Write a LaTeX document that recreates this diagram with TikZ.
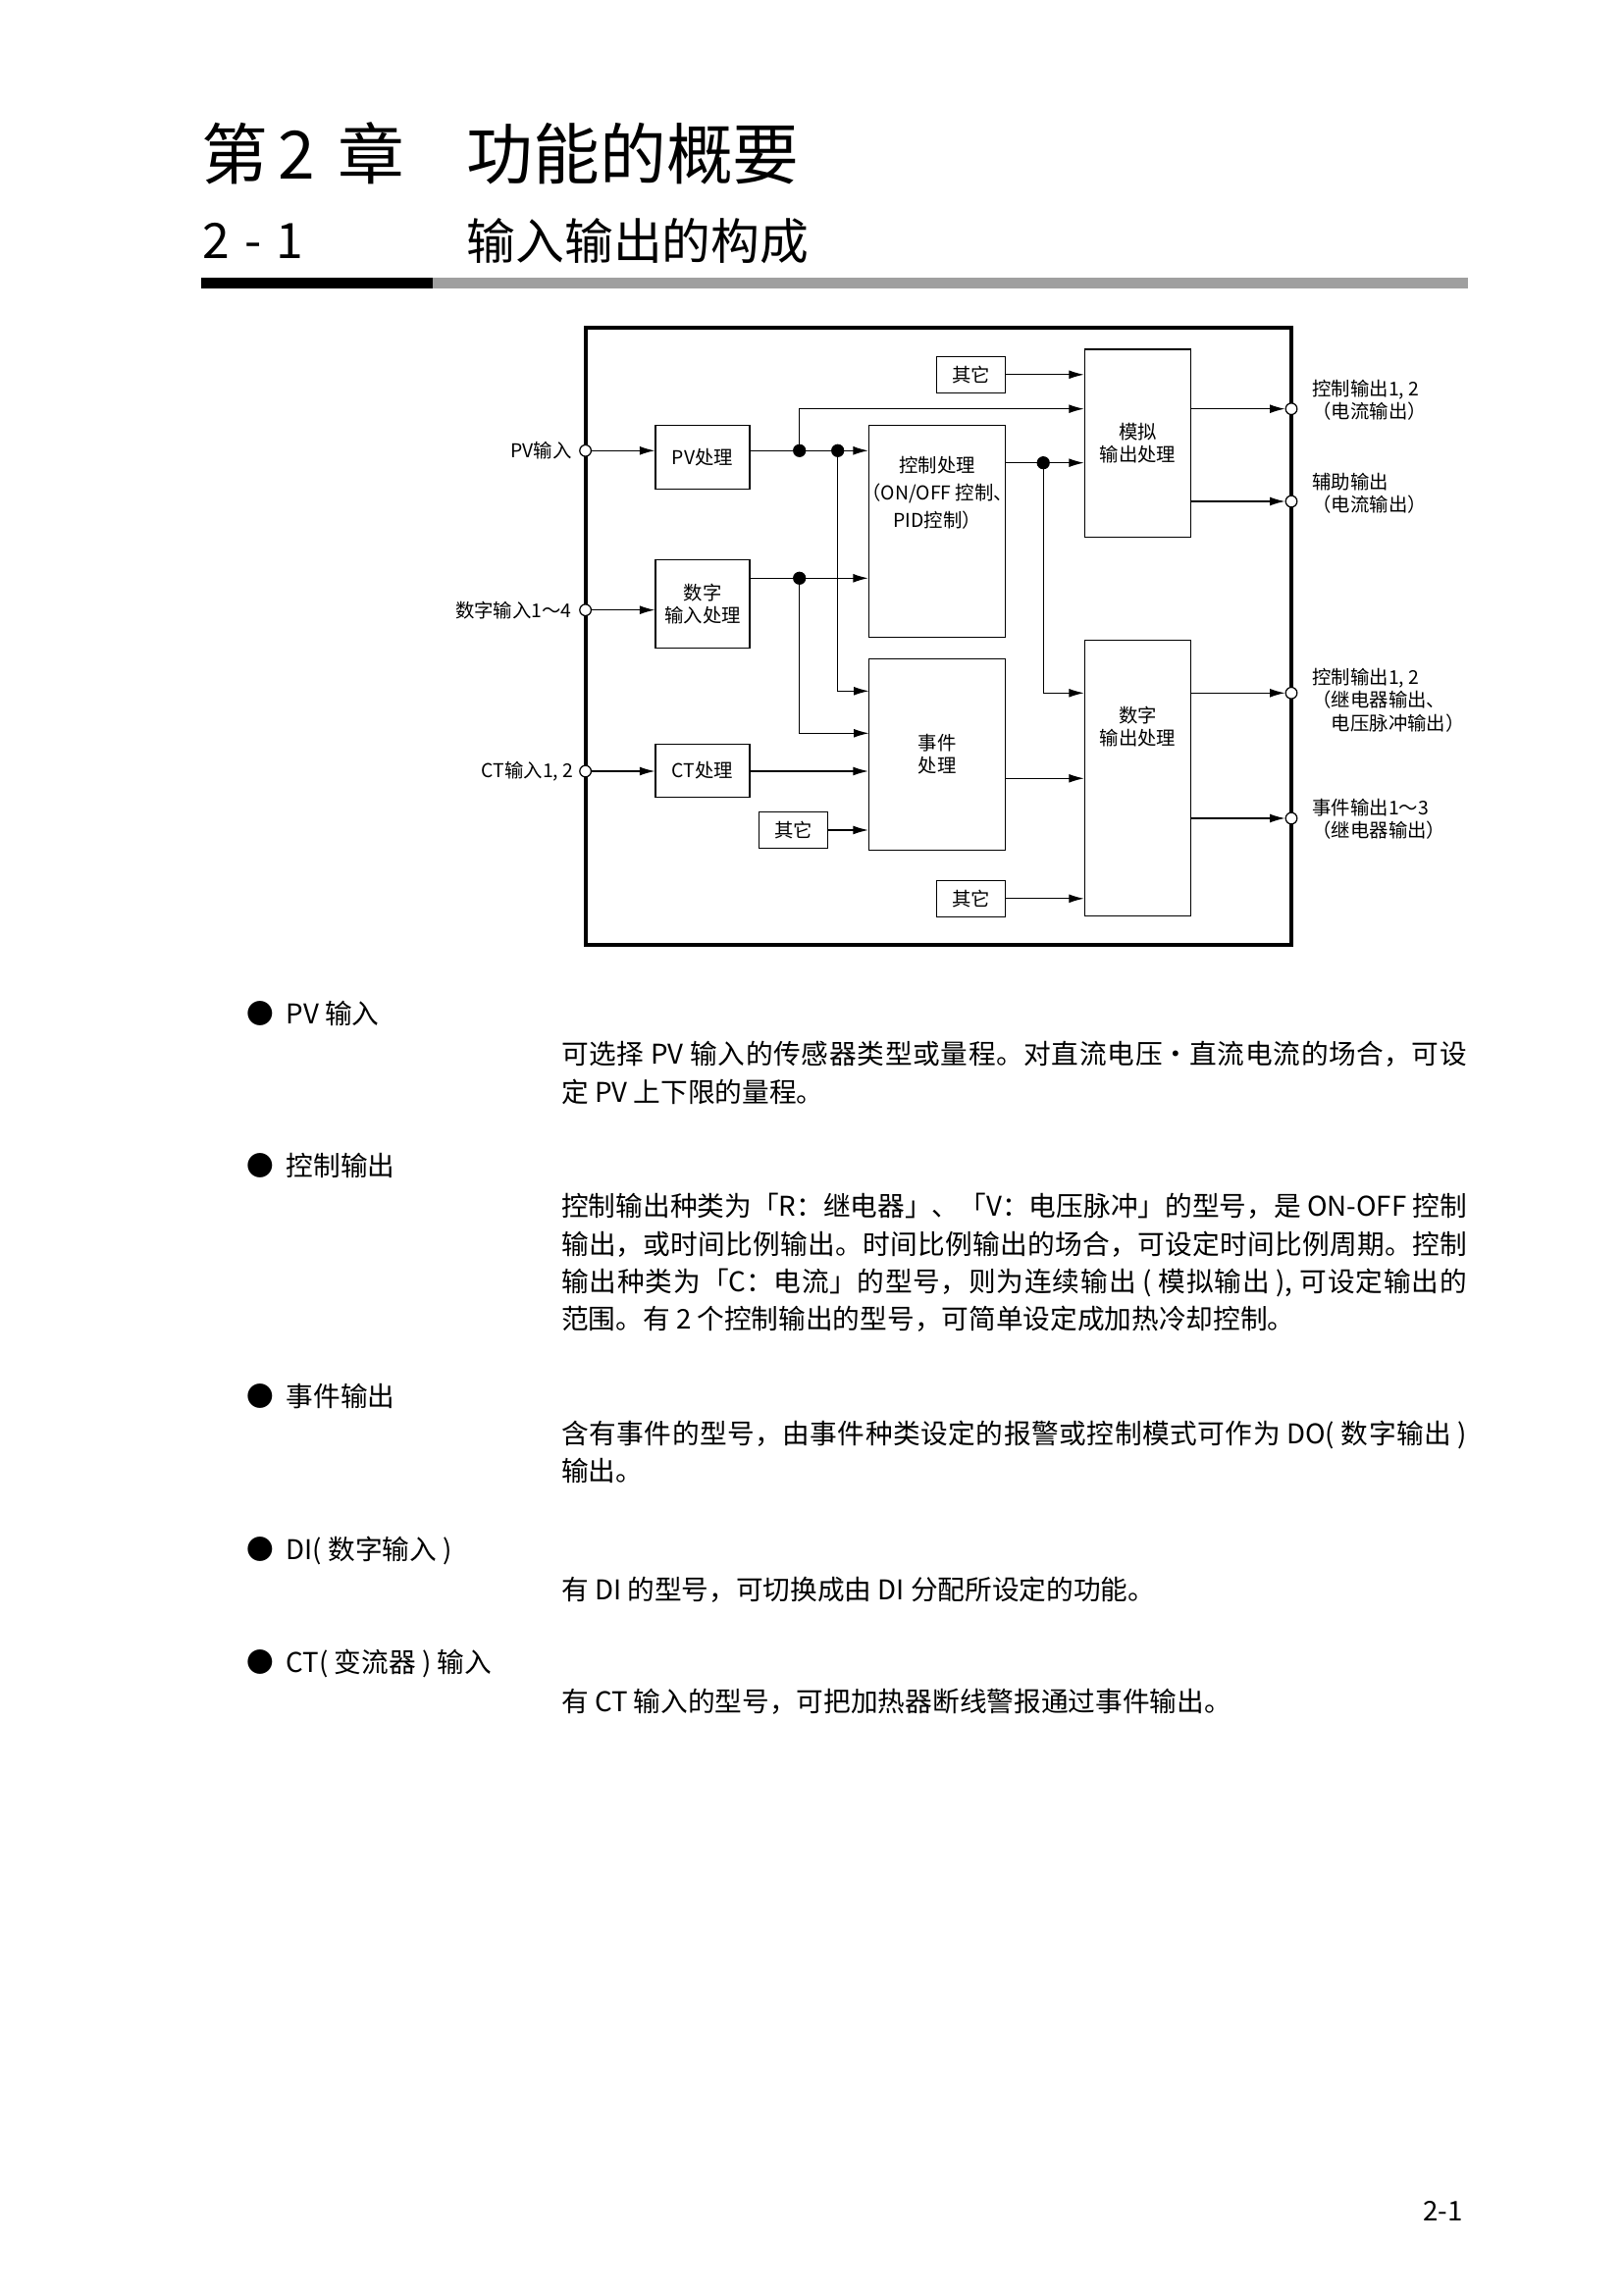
\documentclass[tikz,border=0pt]{standalone}
\usepackage{fontspec}
\setmainfont{Noto Sans CJK SC}
\usetikzlibrary{arrows.meta}
\XeTeXlinebreaklocale "zh"
\XeTeXlinebreakskip=0pt plus 2pt minus .4pt
\newcommand{\bodyfont}{\fontsize{10}{13.8}\selectfont}

\begin{document}
\begin{tikzpicture}[x=0.127mm,y=-0.127mm,
  wh/.style 2 args={minimum width=#1*0.127mm,minimum height=#2*0.127mm},
  box/.style={draw,line width=.45pt,inner sep=0pt,align=center,font=\fontsize{7}{8.4}\selectfont},
  arr/.style={-{Latex[length=5.6pt,width=3.2pt]},line width=.45pt},
  port/.style={draw,circle,fill=white,line width=.45pt,minimum size=4.2pt,inner sep=0pt},
  dot/.style={fill,circle,minimum size=4.8pt,inner sep=0pt},
  lbl/.style={font=\fontsize{7}{8.4}\selectfont,align=left,inner sep=0pt},
  head/.style={anchor=west,inner sep=0pt,font=\bodyfont},
  body/.style={anchor=north west,inner sep=0pt,text width=117.2mm,align=justify,font=\bodyfont}]

\useasboundingbox (0,0) rectangle (1654,2339);

% title
\node[anchor=west,inner sep=0pt,font=\fontsize{24.5}{29}\selectfont] (ttl) at (205,156.5) {第\hspace{.15em}2\hspace{.35em}章\hspace{.93em}功能的概要};
\node[anchor=west,inner sep=0pt,font=\fontsize{18}{21}\selectfont] (secn) at (206,245.5) {2\hspace{.3em}-\hspace{.3em}1};
\node[anchor=west,inner sep=0pt,font=\fontsize{18}{21}\selectfont] (sect) at (475,245.5) {输入输出的构成};
\fill (205,282.7) rectangle (441,294.3);
\fill[gray!75] (441,282.7) rectangle (1496,294.3);

% frame
\draw[line width=1.4pt] (596.6,334) rectangle (1316,962.7);

% blocks
\node[box,wh={70.4}{37}] (oth1) at (989.6,381.8) {其它};
\node[box,wh={96}{65}] (pvp) at (716,465.8) {PV处理};
\node[box,wh={96}{89.6}] (dip) at (716,615.5) {数字\\输入处理};
\node[box,wh={96}{54}] (ctp) at (716,785.3) {CT处理};
\node[box,wh={139.3}{216},label={[anchor=north,yshift=-4.1mm,inner sep=0pt,align=center,font=\fontsize{7}{10}\selectfont]north:控制处理\\（ON/OFF 控制、\\PID控制）}] (ctl) at (955.15,541.3) {};
\node[box,wh={139.3}{194.6}] (evt) at (955.15,769) {事件\\处理};
\node[box,wh={70}{36.6}] (oth2) at (808.4,846) {其它};
\node[box,wh={70.4}{37}] (oth3) at (989.6,915.8) {其它};
\node[box,wh={108.2}{191.3}] (ana) at (1159.5,451.7) {模拟\\输出处理};
\node[box,wh={108.2}{281},label={[anchor=north,yshift=-8.6mm,inner sep=0pt,align=center,font=\fontsize{7}{8.4}\selectfont]north:数字\\输出处理}] (dig) at (1159.5,792.8) {};

% ports on the frame
\node[port] (pvin) at (596.6,459.3) {};
\node[port] (diin) at (596.6,621.7) {};
\node[port] (ctin) at (596.6,786) {};
\node[port] (out1) at (1316,416.7) {};
\node[port] (out2) at (1316,511) {};
\node[port] (out3) at (1316,706.3) {};
\node[port] (out4) at (1316,834) {};

\node[lbl,anchor=east] at (583,459.3) {PV输入};
\node[lbl,anchor=east] at (583,621.7) {数字输入1～4};
\node[lbl,anchor=east] at (585,786) {CT输入1, 2};
\node[lbl,anchor=west] at (1337,407.5) {控制输出1, 2\\（电流输出）};
\node[lbl,anchor=west] at (1337,502.5) {辅助输出\\（电流输出）};
\node[lbl,anchor=west] at (1337,713.7) {控制输出1, 2\\（继电器输出、\\\hspace*{1em}电压脉冲输出）};
\node[lbl,anchor=west] at (1337,835) {事件输出1～3\\（继电器输出）};

% junctions
\coordinate (j1) at (814.7,459.3);
\coordinate (j2) at (853.7,459.3);
\coordinate (j3) at (1063.2,471.7);
\coordinate (j4) at (814.7,589.3);
\coordinate (e1) at (885.5,704.3);
\coordinate (e2) at (885.5,747.3);
\coordinate (eo) at (1024.8,793.3);

% connectors
\path (pvin) edge[arr] (pvin -| pvp.west);
\path (diin) edge[arr] (diin -| dip.west);
\path (ctin) edge[arr] (ctin -| ctp.west);
\draw[arr] (pvp.east |- j1) -- (j1 -| ctl.west);
\draw[arr] (j1) |- (ana.west |- out1);
\draw[arr] (j2) |- (e1);
\draw[arr] (oth1) -- (oth1 -| ana.west);
\draw[arr] (ctl.east |- j3) -- (j3 -| ana.west);
\draw[arr] (j3) |- (dig.west |- out3);
\draw[arr] (dip.east |- j4) -- (j4 -| ctl.west);
\draw[arr] (j4) |- (e2);
\draw[arr] (ctp.east |- ctin) -- (ctin -| evt.west);
\draw[arr] (oth2) -- (oth2 -| evt.west);
\draw[arr] (eo) -- (eo -| dig.west);
\draw[arr] (oth3) -- (oth3 -| dig.west);
\draw[arr] (ana.east |- out1) -- (out1);
\draw[arr] (ana.east |- out2) -- (out2);
\draw[arr] (dig.east |- out3) -- (out3);
\draw[arr] (dig.east |- out4) -- (out4);

\foreach \j in {j1,j2,j3,j4}{
\node[dot] at (\j) {};
}

% text below the diagram
\node[head] (h1) at (251,1033) {●\hspace{.45em}PV 输入};
\node[head] (h2) at (251,1188) {●\hspace{.45em}控制输出};
\node[head] (h3) at (251,1423) {●\hspace{.45em}事件输出};
\node[head] (h4) at (251,1580) {●\hspace{.45em}DI( 数字输入 )};
\node[head] (h5) at (251,1695) {●\hspace{.45em}CT( 变流器 ) 输入};

\node[body] (b1) at (571.6,1061) {可选择 PV 输入的传感器类型或量程。对直流电压\makebox[1em]{•}直流电流的场合，可设\linebreak 定 PV 上下限的量程。};
\node[body] (b2) at (571.6,1216) {控制输出种类为「R：继电器」、「V：电压脉冲」的型号，是 ON-OFF 控制\linebreak
输出，或时间比例输出。时间比例输出的场合，可设定时间比例周期。控制\linebreak
输出种类为「C：电流」的型号，则为连续输出 ( 模拟输出 ), 可设定输出的\linebreak
范围。有 2 个控制输出的型号，可简单设定成加热冷却控制。};
\node[body] (b3) at (571.6,1447.7) {含有事件的型号，由事件种类设定的报警或控制模式可作为 DO( 数字输出 )\linebreak 输出。};
\node[body] (b4) at (571.6,1606) {有 DI 的型号，可切换成由 DI 分配所设定的功能。};
\node[body] (b5) at (571.6,1721) {有 CT 输入的型号，可把加热器断线警报通过事件输出。};

\node[inner sep=0pt,font=\bodyfont] (pg) at (1470.6,2253.7) {2-1};

\end{tikzpicture}
\end{document}
